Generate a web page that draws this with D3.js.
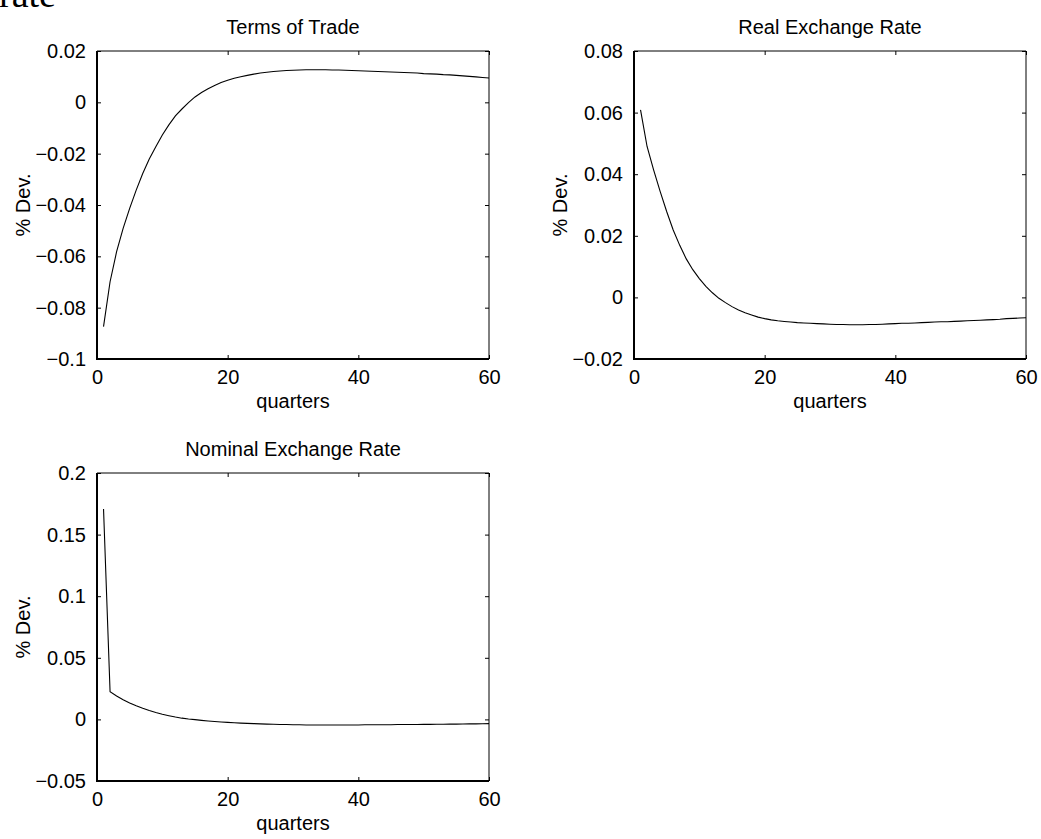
<!DOCTYPE html>
<html>
<head>
<meta charset="utf-8">
<script src="https://cdn.jsdelivr.net/npm/d3@7"></script>
<style>
  body { margin: 0; background: #fff; }
  .axis-text { font-family: "Liberation Sans", Arial, sans-serif; font-size: 20px; fill: #000; }
  .box-line { stroke: #000; fill: none; }
  .curve { stroke: #000; stroke-width: 1.1; fill: none; }
</style>
</head>
<body>
<svg id="chart" width="1041" height="839"></svg>
<script>
// quarters 1..60
var quarters = d3.range(1, 61);

var termsOfTrade = [
  -0.0874, -0.0699, -0.0582, -0.0491, -0.0413, -0.0342, -0.0277, -0.0221, -0.0173, -0.0127,
  -0.0088, -0.0053, -0.0026, -0.0001, 0.0021, 0.0038, 0.0053, 0.0066, 0.0077, 0.0086,
  0.0094, 0.0100, 0.0105, 0.0110, 0.0114, 0.0117, 0.0120, 0.0122, 0.0124, 0.0125,
  0.0126, 0.0127, 0.0127, 0.0127, 0.0127, 0.0126, 0.0126, 0.0125, 0.0124, 0.0123,
  0.0122, 0.0121, 0.0120, 0.0119, 0.0118, 0.0117, 0.0116, 0.0115, 0.0114, 0.0112,
  0.0111, 0.0110, 0.0108, 0.0107, 0.0105, 0.0103, 0.0101, 0.0099, 0.0097, 0.0095
];

var realExchangeRate = [
  0.0609, 0.0490, 0.0414, 0.0344, 0.0279, 0.0219, 0.0169, 0.0125, 0.0090, 0.0061,
  0.0036, 0.0015, -0.0003, -0.0017, -0.0030, -0.0041, -0.0050, -0.0057, -0.0064, -0.0069,
  -0.0073, -0.0076, -0.0078, -0.0080, -0.0082, -0.0083, -0.0084, -0.0085, -0.0086, -0.0087,
  -0.0088, -0.0088, -0.0089, -0.0089, -0.0089, -0.0088, -0.0088, -0.0087, -0.0086, -0.0085,
  -0.0084, -0.0084, -0.0083, -0.0082, -0.0081, -0.0080, -0.0079, -0.0079, -0.0078, -0.0077,
  -0.0076, -0.0075, -0.0074, -0.0073, -0.0072, -0.0071, -0.0069, -0.0068, -0.0067, -0.0066
];

var nominalExchangeRate = [
  0.1707, 0.0225, 0.0190, 0.0160, 0.0133, 0.0110, 0.0090, 0.0072, 0.0056, 0.0042,
  0.0030, 0.0019, 0.0010, 0.0003, -0.0002, -0.0008, -0.0013, -0.0017, -0.0021, -0.0024,
  -0.0027, -0.0030, -0.0032, -0.0034, -0.0036, -0.0038, -0.0039, -0.0041, -0.0042, -0.0043,
  -0.0044, -0.0045, -0.0045, -0.0045, -0.0045, -0.0045, -0.0045, -0.0045, -0.0045, -0.0045,
  -0.0044, -0.0044, -0.0044, -0.0043, -0.0043, -0.0042, -0.0042, -0.0041, -0.0041, -0.0040,
  -0.0040, -0.0039, -0.0039, -0.0038, -0.0038, -0.0037, -0.0036, -0.0036, -0.0035, -0.0034
];

// tick values
var xTicks = [0, 20, 40, 60];
var totTicks = [-0.1, -0.08, -0.06, -0.04, -0.02, 0, 0.02];
var rerTicks = [-0.02, 0, 0.02, 0.04, 0.06, 0.08];
var nerTicks = [-0.05, 0, 0.05, 0.1, 0.15, 0.2];

var panels = [
  { title: 'Terms of Trade', values: termsOfTrade, ticks: totTicks, left: 97, top: 51 },
  { title: 'Real Exchange Rate', values: realExchangeRate, ticks: rerTicks, left: 634, top: 51 },
  { title: 'Nominal Exchange Rate', values: nominalExchangeRate, ticks: nerTicks, left: 97, top: 473 }
];

var w = 392, h = 308, tickLen = 4;
var fmt = d3.format('~g');
var svg = d3.select('#chart');

svg.append('rect').attr('width', 1041).attr('height', 839).attr('fill', '#fff');

// leftover caption cut by the page top
svg.append('text')
  .attr('x', -1)
  .attr('y', 7)
  .style('font-family', '"Liberation Serif", "DejaVu Serif", serif')
  .style('font-size', '38px')
  .text('rate');

panels.forEach(function(p) {
  var g = svg.append('g').attr('transform', 'translate(' + p.left + ',' + p.top + ')');

  var x = d3.scaleLinear().domain([0, 60]).range([0, w]);
  var y = d3.scaleLinear().domain(d3.extent(p.ticks)).range([h, 0]);

  //bottom + top ticks
  g.append('g')
    .attr('transform', 'translate(0,' + h + ')')
    .call(d3.axisBottom(x).tickValues(xTicks).tickSizeInner(-tickLen).tickSizeOuter(0).tickPadding(10).tickFormat(fmt))
    .call(function(a) {
      a.select('.domain').remove();
      a.selectAll('line').attr('stroke', '#000');
      a.selectAll('text').attr('class', 'axis-text').attr('font-family', null).attr('font-size', null).attr('dy', '0.75em');
    });
  g.append('g')
    .call(d3.axisTop(x).tickValues(xTicks).tickSizeInner(-tickLen).tickSizeOuter(0).tickFormat(''))
    .call(function(a) {
      a.select('.domain').remove();
      a.selectAll('line').attr('stroke', '#000');
    });

  //left + right ticks
  g.append('g')
    .call(d3.axisLeft(y).tickValues(p.ticks).tickSizeInner(-tickLen).tickSizeOuter(0).tickPadding(11).tickFormat(fmt))
    .call(function(a) {
      a.select('.domain').remove();
      a.selectAll('line').attr('stroke', '#000');
      a.selectAll('text').attr('class', 'axis-text').attr('font-family', null).attr('font-size', null);
    });
  g.append('g')
    .attr('transform', 'translate(' + w + ',0)')
    .call(d3.axisRight(y).tickValues(p.ticks).tickSizeInner(-tickLen).tickSizeOuter(0).tickFormat(''))
    .call(function(a) {
      a.select('.domain').remove();
      a.selectAll('line').attr('stroke', '#000');
    });

  //box
  g.append('path').attr('class', 'box-line').attr('stroke-width', 1)
    .attr('d', 'M0,0H' + w + 'V' + h);
  g.append('path').attr('class', 'box-line').attr('stroke-width', 2)
    .attr('d', 'M0,0V' + h + 'H' + w);

  //curve
  g.append('path')
    .datum(p.values)
    .attr('class', 'curve')
    .attr('d', d3.line()
      .x(function(d, i) { return x(quarters[i]); })
      .y(function(d) { return y(d); }));

  //labels
  g.append('text')
    .attr('class', 'axis-text')
    .attr('text-anchor', 'middle')
    .attr('x', w / 2)
    .attr('y', -17)
    .text(p.title);

  g.append('text')
    .attr('class', 'axis-text')
    .attr('text-anchor', 'middle')
    .attr('x', w / 2)
    .attr('y', h + 49)
    .text('quarters');

  g.append('text')
    .attr('class', 'axis-text')
    .attr('text-anchor', 'middle')
    .attr('transform', 'translate(-67,' + (h / 2) + ') rotate(-90)')
    .text('% Dev.');
});
</script>
</body>
</html>
